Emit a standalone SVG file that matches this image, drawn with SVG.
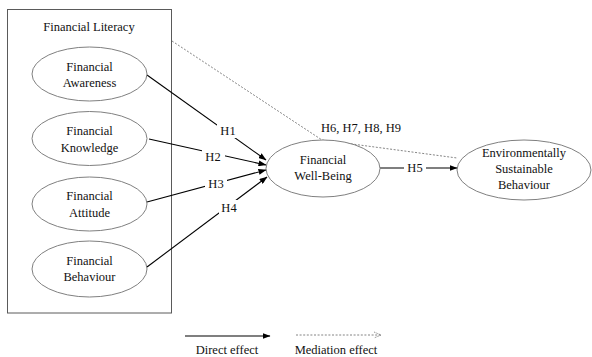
<svg xmlns="http://www.w3.org/2000/svg" width="592" height="357" viewBox="0 0 592 357">
<defs>
<marker id="ah" markerWidth="8" markerHeight="6" refX="7.5" refY="3" orient="auto" markerUnits="userSpaceOnUse">
<path d="M0,0 L8,3 L0,6 Z" fill="#000"/>
</marker>
<marker id="oh" markerWidth="8" markerHeight="8" refX="7" refY="4" orient="auto" markerUnits="userSpaceOnUse">
<path d="M0,1 L7,4 L0,7" fill="none" stroke="#777" stroke-width="0.8" stroke-dasharray="1.5,1"/>
</marker>
</defs>
<style>
text{font-family:"Liberation Serif","Times New Roman",serif;font-size:12.5px;fill:#111;text-anchor:middle}
.el{fill:#fff;stroke:#808080;stroke-width:1}
.direct{stroke:#000;stroke-width:1.1;fill:none}
.med{stroke:#666;stroke-width:0.8;stroke-dasharray:2,1.6;fill:none}
.lbl{fill:#fff;stroke:none}
</style>
<rect width="592" height="357" fill="#fff"/>
<g id="financial-literacy">
<rect x="7.5" y="9.5" width="164" height="303.5" fill="none" stroke="#5a5a5a" stroke-width="1"/>
<text x="89" y="31">Financial Literacy</text>
</g>
<g id="connectors">
<path class="med" d="M172,41 L322,140 L457,158"/>
<line class="direct" x1="147" y1="75" x2="266" y2="160" marker-end="url(#ah)"/>
<line class="direct" x1="149" y1="139" x2="266" y2="165" marker-end="url(#ah)"/>
<line class="direct" x1="147" y1="202" x2="266" y2="170" marker-end="url(#ah)"/>
<line class="direct" x1="147" y1="267" x2="267" y2="177" marker-end="url(#ah)"/>
<line class="direct" x1="380" y1="168" x2="457" y2="168" marker-end="url(#ah)"/>
<rect class="lbl" x="217" y="122" width="20" height="16"/>
<text x="228" y="135">H1</text>
<rect class="lbl" x="202" y="149" width="23" height="15"/>
<text x="213" y="161">H2</text>
<rect class="lbl" x="205" y="176" width="22" height="15"/>
<text x="216" y="188">H3</text>
<rect class="lbl" x="219" y="200" width="20" height="16"/>
<text x="229" y="212">H4</text>
<rect class="lbl" x="404" y="160" width="22" height="15"/>
<text x="415" y="172">H5</text>
<text x="361" y="132">H6, H7, H8, H9</text>
</g>
<g id="financial-awareness">
<ellipse class="el" cx="89.5" cy="74" rx="57.5" ry="27"/>
<text x="89.5" y="71">Financial</text>
<text x="89.5" y="87">Awareness</text>
</g>
<g id="financial-knowledge">
<ellipse class="el" cx="89.5" cy="138.5" rx="57.5" ry="27"/>
<text x="89.5" y="135">Financial</text>
<text x="89.5" y="152">Knowledge</text>
</g>
<g id="financial-attitude">
<ellipse class="el" cx="89.5" cy="204" rx="57.5" ry="27"/>
<text x="89.5" y="200">Financial</text>
<text x="89.5" y="217">Attitude</text>
</g>
<g id="financial-behaviour">
<ellipse class="el" cx="89.5" cy="269" rx="57.5" ry="28"/>
<text x="89.5" y="265">Financial</text>
<text x="89.5" y="281">Behaviour</text>
</g>
<g id="financial-well-being">
<ellipse class="el" cx="323" cy="168.5" rx="57" ry="28.5"/>
<text x="323" y="164">Financial</text>
<text x="323" y="180">Well-Being</text>
</g>
<g id="environmentally-sustainable-behaviour">
<ellipse class="el" cx="524" cy="170" rx="67" ry="30"/>
<text x="524" y="157">Environmentally</text>
<text x="524" y="173">Sustainable</text>
<text x="524" y="189">Behaviour</text>
</g>
<g id="legend">
<line class="direct" x1="185" y1="336" x2="270" y2="336" marker-end="url(#ah)"/>
<text x="227" y="354">Direct effect</text>
<line class="med" x1="296" y1="335" x2="381" y2="335" marker-end="url(#oh)"/>
<text x="336" y="354">Mediation effect</text>
</g>
</svg>
